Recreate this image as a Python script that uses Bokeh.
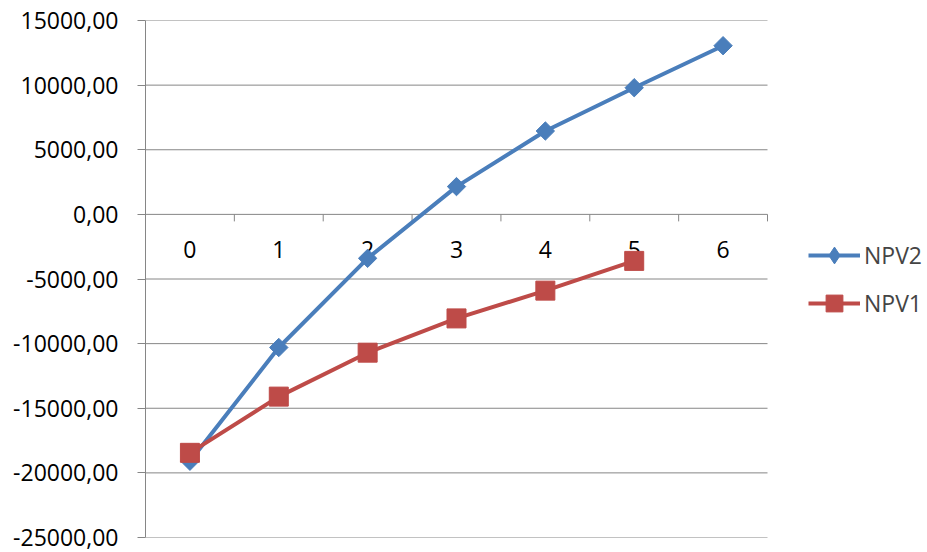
import math
import numpy as np
from bokeh.plotting import figure
from bokeh.models import FixedTicker, Legend, LegendItem, Range1d
from bokeh.core.properties import value
from bokeh.embed import file_html
from bokeh.resources import INLINE

# ---- data ----
periods = [0, 1, 2, 3, 4, 5, 6]
period_labels = ["0", "1", "2", "3", "4", "5", "6"]
npv2 = [-19100, -10300, -3400, 2150, 6450, 9800, 13050]
npv1_periods = [0, 1, 2, 3, 4, 5]
npv1 = [-18450, -14100, -10700, -8050, -5900, -3600]
y_ticks = [-25000, -20000, -15000, -10000, -5000, 0, 5000, 10000, 15000]
y_tick_labels = ["-25000,00", "-20000,00", "-15000,00", "-10000,00", "-5000,00",
                 "0,00", "5000,00", "10000,00", "15000,00"]

BLUE = "#4A7EBB"
RED = "#BE4B48"
GRID = "#868686"
FONT = "Open Sans"
FS = "23px"

PLOT_W = 622      # pixel width of the category area
FRAME_W = 782     # frame incl. legend area
n = len(periods)
x_lo = -0.5
x_hi_cat = n - 0.5
x_hi = x_lo + n * FRAME_W / PLOT_W

p = figure(frame_width=FRAME_W, frame_height=517, output_backend="svg",
           toolbar_location=None,
           x_range=Range1d(x_lo, x_hi),
           y_range=Range1d(y_ticks[0], y_ticks[-1]),
           min_border_left=145, min_border_right=0, min_border_top=20,
           min_border_bottom=15)
p.outline_line_color = None
p.background_fill_color = "white"
p.border_fill_color = "white"

p.xaxis.visible = False
p.xgrid.visible = False
p.ygrid.visible = False

# horizontal grid lines limited to the category area
p.segment(x0=[x_lo] * len(y_ticks), x1=[x_hi_cat] * len(y_ticks),
          y0=y_ticks, y1=y_ticks, line_color=GRID, line_width=1)

ya = p.yaxis[0]
ya.ticker = FixedTicker(ticks=y_ticks)
ya.major_label_overrides = {t: l for t, l in zip(y_ticks, y_tick_labels)}
ya.axis_line_color = GRID
ya.major_tick_line_color = GRID
ya.major_tick_out = 8
ya.major_tick_in = 0
ya.minor_tick_line_color = None
ya.major_label_standoff = 19
ya.major_label_text_font = FONT
ya.major_label_text_font_size = FS
ya.major_label_text_color = "black"

# x axis ticks at category boundaries, labels below the zero line
bounds = [c + 0.5 for c in periods]
p.ray(x=bounds, y=[0] * len(bounds), length=7, length_units="screen",
      angle=-math.pi / 2, line_color=GRID, line_width=1)
p.text(x=periods, y=[0] * n, text=period_labels,
       text_font=value(FONT), text_font_size=FS, text_color="black",
       text_align="center", text_baseline="middle", y_offset=35)

# series
l2 = p.line(periods, npv2, line_color=BLUE, line_width=4)
m2 = p.scatter(periods, npv2, marker="square", size=13, angle=math.pi / 4,
               fill_color=BLUE, line_color=BLUE)
l1 = p.line(npv1_periods, npv1, line_color=RED, line_width=4)
m1 = p.scatter(npv1_periods, npv1, marker="square", size=19, fill_color=RED,
               line_color=RED)

# legend-only marker for the diamond shape (not drawn in the plot)
lg2 = p.scatter(x=np.array([np.nan]), y=np.array([np.nan]), marker="diamond",
                size=17, fill_color=BLUE, line_color=BLUE)

legend = Legend(items=[LegendItem(label="NPV2", renderers=[l2, lg2]),
                       LegendItem(label="NPV1", renderers=[l1, m1])],
                location=(663, 213), glyph_width=52, glyph_height=42,
                label_height=24, label_text_font=FONT, label_text_font_size=FS,
                label_standoff=4, spacing=6, border_line_color=None,
                background_fill_alpha=0, margin=0, padding=0)
p.add_layout(legend)

open("out.html", "w").write(file_html(p, INLINE))
